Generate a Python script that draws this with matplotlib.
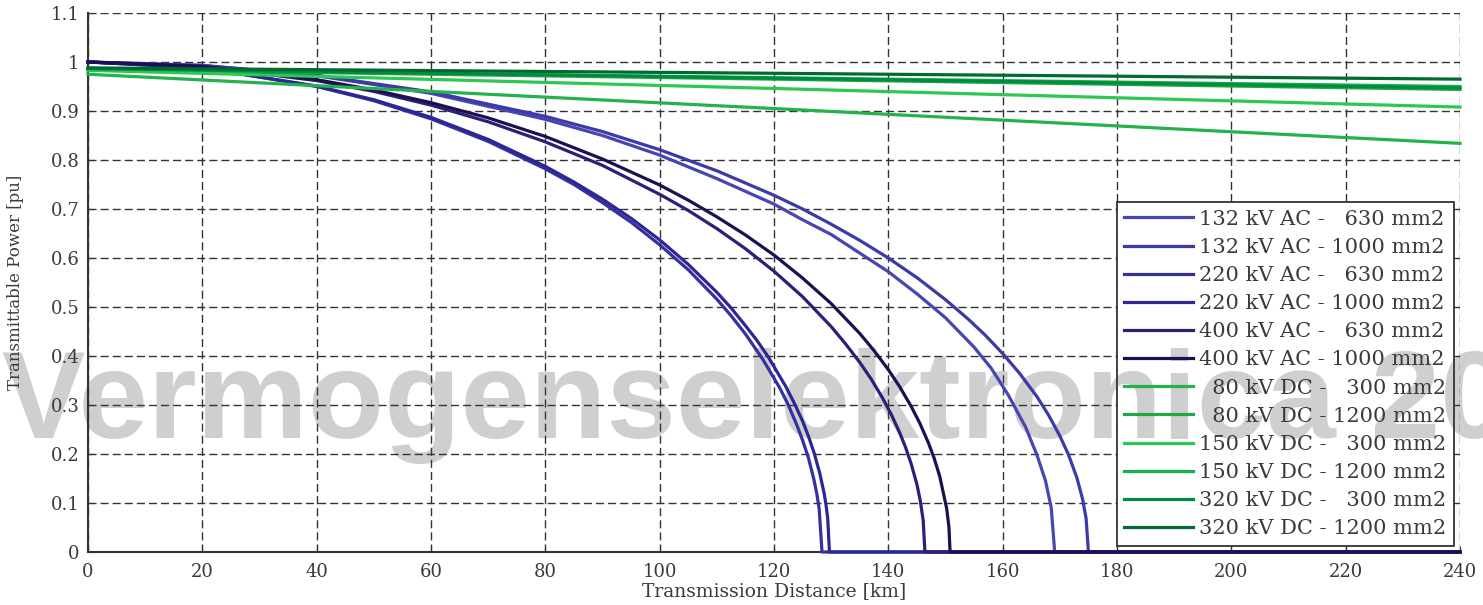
import matplotlib
matplotlib.use("Agg")
import matplotlib.pyplot as plt
from matplotlib.patches import Rectangle
from matplotlib.transforms import IdentityTransform, Bbox

# ---------------- data ----------------
labels = [
    "132 kV AC -   630 mm2", "132 kV AC - 1000 mm2",
    "220 kV AC -   630 mm2", "220 kV AC - 1000 mm2",
    "400 kV AC -   630 mm2", "400 kV AC - 1000 mm2",
    "  80 kV DC -   300 mm2", "  80 kV DC - 1200 mm2",
    "150 kV DC -   300 mm2", "150 kV DC - 1200 mm2",
    "320 kV DC -   300 mm2", "320 kV DC - 1200 mm2",
]
colors = ["#4646b2", "#3c3aa8", "#3430a0", "#2c2792", "#2a2078", "#1b1052",
          "#22b44a", "#1ea846", "#2cc853", "#14b04c", "#008c3e", "#006a30"]

d_132_630 = [0, 20, 40, 60, 80, 90, 100, 110, 120, 125, 130, 135, 140, 145, 150, 155, 158, 161,
             164, 166, 167.5, 168.5, 169.1, 240]
p_132_630 = [1.0, 0.993, 0.972, 0.936, 0.883, 0.850, 0.810, 0.762, 0.710, 0.678, 0.648, 0.610,
             0.572, 0.527, 0.478, 0.418, 0.375, 0.320, 0.255, 0.198, 0.145, 0.090, 0.0, 0.0]

d_132_1000 = [0, 20, 40, 60, 80, 90, 100, 110, 120, 125, 130, 135, 140, 145, 150, 154, 157, 160,
              163, 166, 168, 170, 171.5, 173, 174, 174.6, 175.0, 240]
p_132_1000 = [1.0, 0.993, 0.973, 0.939, 0.889, 0.858, 0.821, 0.778, 0.728, 0.700, 0.669, 0.636,
              0.600, 0.560, 0.515, 0.475, 0.442, 0.405, 0.364, 0.317, 0.280, 0.237, 0.199, 0.151,
              0.107, 0.068, 0.0, 0.0]

d_220_630 = [0, 20, 40, 50, 60, 70, 80, 85, 90, 95, 100, 105, 110, 112.5, 115, 118, 121, 122.5,
             124, 125, 126, 127, 127.5, 127.9, 128.4, 240]
p_220_630 = [1.0, 0.988, 0.950, 0.921, 0.884, 0.838, 0.782, 0.750, 0.713, 0.673, 0.627, 0.576,
             0.516, 0.482, 0.445, 0.394, 0.335, 0.300, 0.259, 0.228, 0.193, 0.147, 0.118, 0.088,
             0.0, 0.0]

d_220_1000 = [0, 20, 40, 50, 60, 70, 80, 85, 90, 95, 100, 105, 110, 112.5, 115, 117, 119, 122,
              123.5, 125, 126, 127, 128, 128.8, 129.1, 129.4, 129.7, 240]
p_220_1000 = [1.0, 0.988, 0.951, 0.923, 0.887, 0.842, 0.787, 0.755, 0.720, 0.681, 0.637, 0.587,
              0.530, 0.498, 0.462, 0.432, 0.398, 0.339, 0.305, 0.267, 0.237, 0.203, 0.161, 0.118,
              0.096, 0.068, 0.0, 0.0]

d_400_630 = [0, 20, 40, 50, 60, 70, 80, 90, 100, 105, 110, 115, 120, 125, 130, 132.5, 135, 137,
             139, 140.5, 142, 143, 144, 145, 145.6, 146.1, 146.4, 240]
p_400_630 = [1.0, 0.991, 0.962, 0.940, 0.912, 0.878, 0.837, 0.789, 0.730, 0.697, 0.660, 0.619,
             0.573, 0.521, 0.460, 0.425, 0.387, 0.353, 0.314, 0.281, 0.243, 0.214, 0.180, 0.138,
             0.104, 0.064, 0.0, 0.0]

d_400_1000 = [0, 20, 40, 50, 60, 70, 80, 90, 100, 105, 110, 115, 120, 125, 130, 135, 137.5, 140,
              142, 144, 145.5, 147, 148, 149, 150.2, 150.6, 150.8, 240]
p_400_1000 = [1.0, 0.991, 0.964, 0.943, 0.917, 0.886, 0.848, 0.802, 0.749, 0.718, 0.684, 0.647,
              0.606, 0.559, 0.507, 0.446, 0.411, 0.372, 0.337, 0.297, 0.263, 0.223, 0.192, 0.154,
              0.089, 0.051, 0.0, 0.0]

d_dc = [0, 120, 240]
p_80_300 = [0.975, 0.905, 0.834]
p_80_1200 = [0.985, 0.965, 0.944]
p_150_300 = [0.983, 0.946, 0.908]
p_150_1200 = [0.986, 0.968, 0.950]
p_320_300 = [0.987, 0.967, 0.947]
p_320_1200 = [0.988, 0.977, 0.965]

x_ticks = list(range(0, 241, 20))
y_ticks = [0, 0.1, 0.2, 0.3, 0.4, 0.5, 0.6, 0.7, 0.8, 0.9, 1.0, 1.1]
y_tick_labels = ["0", "0.1", "0.2", "0.3", "0.4", "0.5", "0.6", "0.7", "0.8", "0.9", "1", "1.1"]

series = [
    (d_132_630, p_132_630), (d_132_1000, p_132_1000),
    (d_220_630, p_220_630), (d_220_1000, p_220_1000),
    (d_400_630, p_400_630), (d_400_1000, p_400_1000),
    (d_dc, p_80_300), (d_dc, p_80_1200),
    (d_dc, p_150_300), (d_dc, p_150_1200),
    (d_dc, p_320_300), (d_dc, p_320_1200),
]

# ---------------- figure ----------------
plt.rcParams["lines.scale_dashes"] = False
SERIF = ["DejaVu Serif"]
W, H = 1483, 605
fig = plt.figure(figsize=(W / 100, H / 100), dpi=100, facecolor="white")
ax = fig.add_axes([88 / W, 1 - 552 / H, 1372 / W, 539 / H])
ax.patch.set_visible(False)

WM_TEXT = "Vermogenselektronica 20"
WM_KW = dict(fontsize=90, fontweight="bold", family="Liberation Sans",
             color="#cfcfcf", ha="left", va="baseline")
fig.text(2 / W, 1 - 438 / H, WM_TEXT, zorder=-5, **WM_KW)

for (d, p), lab, c in zip(series, labels, colors):
    ax.plot(d, p, color=c, lw=2.3, label=lab, clip_on=False, zorder=3,
            solid_joinstyle="round")

ax.set_xlim(0, 240)
ax.set_ylim(0, 1.1)
ax.set_xticks(x_ticks)
ax.set_yticks(y_ticks)
ax.set_yticklabels(y_tick_labels)
ax.set_axisbelow(True)
ax.grid(True, color="#333333", lw=1.0, ls=(0, (5.8, 2.9)))

for s in ["top", "right"]:
    ax.spines[s].set_visible(False)
for s in ["left", "bottom"]:
    ax.spines[s].set_color("#333333")
    ax.spines[s].set_linewidth(1.5)
    ax.spines[s].set_zorder(2.5)

ax.tick_params(direction="in", length=4, color="#333333", labelcolor="#3a3a3a",
               labelsize=13)
ax.tick_params(axis="x", pad=8)
ax.tick_params(axis="y", pad=6)
for t in ax.get_xticklabels() + ax.get_yticklabels():
    t.set_family(SERIF)

ax.set_xlabel("Transmission Distance [km]", family=SERIF, fontsize=13.5, color="#3a3a3a", labelpad=1)
ax.set_ylabel("Transmittable Power [pu]", family=SERIF, fontsize=12, color="#3a3a3a")
ax.yaxis.set_label_coords(-0.0466, 0.5)

leg = ax.legend(loc="lower right", bbox_to_anchor=(1.0, 0.0), borderaxespad=0.3,
                prop={"family": SERIF, "size": 15}, handlelength=3.3,
                handletextpad=0.3, labelspacing=0.44, borderpad=0.35,
                fancybox=False, frameon=True, framealpha=1)
leg.get_frame().set_facecolor("none")
leg.get_frame().set_edgecolor("#333333")
leg.get_frame().set_linewidth(1.3)
leg.set_zorder(6)
for t in leg.get_texts():
    t.set_color("#3a3a3a")

fig.canvas.draw()
bb = leg.get_frame().get_window_extent()
rect = Rectangle((bb.x0, bb.y0), bb.width, bb.height, transform=IdentityTransform(),
                 facecolor="white", edgecolor="none", zorder=4.5)
ax.add_artist(rect)
wm2 = ax.text(2 / W, 1 - 438 / H, WM_TEXT, transform=fig.transFigure, zorder=4.6, **WM_KW)
wm2.set_clip_on(True)
wm2.set_clip_box(Bbox.from_extents(bb.x0, bb.y0, bb.x1, bb.y1))

fig.savefig("out.png", dpi=100, facecolor="white")
